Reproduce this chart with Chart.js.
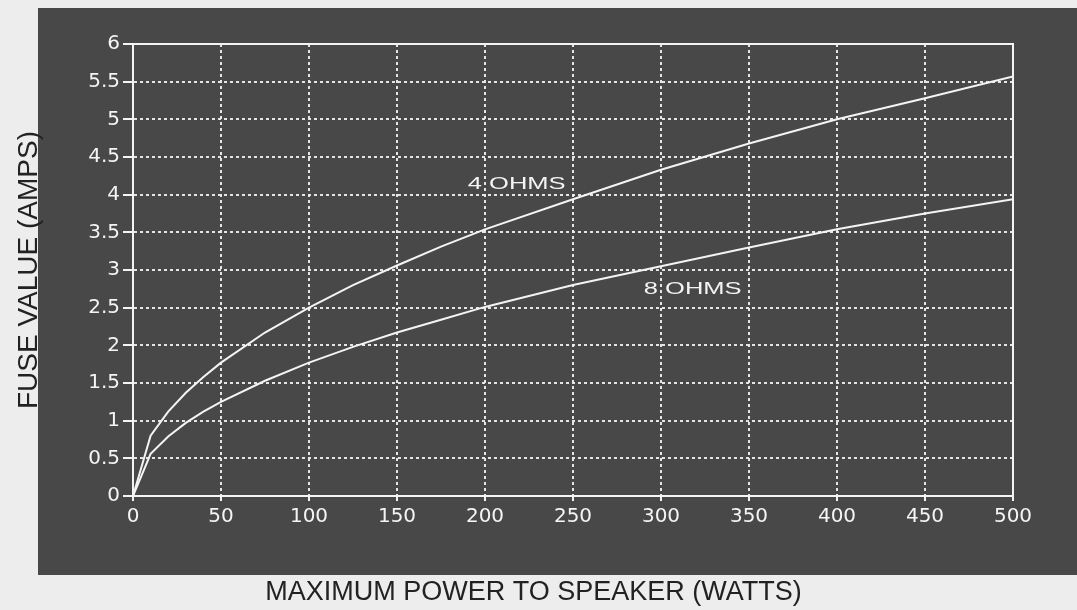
<!DOCTYPE html>
<html>
<head>
<meta charset="utf-8">
<script src="https://cdn.jsdelivr.net/npm/chart.js@4.4.1/dist/chart.umd.min.js"></script>
<style>
  html, body { margin: 0; padding: 0; background: #ededed; width: 1077px; height: 610px; overflow: hidden; }
  #panel { position: absolute; left: 38px; top: 8px; width: 1039px; height: 567px; background: #484848; }
  #wrap { position: absolute; left: 0; top: 0; width: 1077px; height: 610px; }
</style>
</head>
<body>
<div id="panel"></div>
<div id="wrap"><canvas id="c" width="1077" height="610"></canvas></div>
<script>
// ---- data ----
const powerWatts = [0, 10, 20, 30, 40, 50, 75, 100, 125, 150, 175, 200, 250, 300, 350, 400, 450, 500];
const fuse4Ohms  = [0, 0.80, 1.12, 1.37, 1.58, 1.77, 2.17, 2.50, 2.80, 3.06, 3.31, 3.54, 3.94, 4.33, 4.68, 5.00, 5.28, 5.57];
const fuse8Ohms  = [0, 0.56, 0.79, 0.97, 1.12, 1.25, 1.53, 1.77, 1.98, 2.17, 2.34, 2.51, 2.80, 3.05, 3.30, 3.54, 3.75, 3.94];
const seriesNames = ['4 OHMS', '8 OHMS'];
const seriesLabelAnchor = [[218, 4.14], [318, 2.75]]; // [watts, amps] where each curve name sits
const xTickValues = [0, 50, 100, 150, 200, 250, 300, 350, 400, 450, 500];
const xTickLabels = ['0', '50', '100', '150', '200', '250', '300', '350', '400', '450', '500'];
const yTickValues = [0, 0.5, 1, 1.5, 2, 2.5, 3, 3.5, 4, 4.5, 5, 5.5, 6];
const yTickLabels = ['0', '0.5', '1', '1.5', '2', '2.5', '3', '3.5', '4', '4.5', '5', '5.5', '6'];
const xTitle = 'MAXIMUM POWER TO SPEAKER (WATTS)';
const yTitle = 'FUSE VALUE (AMPS)';

const toPoints = (ys) => powerWatts.map((x, i) => ({ x: x, y: ys[i] }));

const WHITE = '#f4f4f4';
const TITLE_COLOR = '#222222';

const boxPlugin = {
  id: 'plotBox',
  afterDatasetsDraw(chart) {
    const a = chart.chartArea, ctx = chart.ctx;
    ctx.save();
    ctx.strokeStyle = WHITE;
    ctx.lineWidth = 2;
    ctx.setLineDash([]);
    ctx.strokeRect(a.left, a.top, a.right - a.left, a.bottom - a.top);
    ctx.restore();
  }
};

const seriesLabelPlugin = {
  id: 'seriesLabels',
  afterDatasetsDraw(chart) {
    const ctx = chart.ctx, xs = chart.scales.x, ys = chart.scales.y;
    ctx.save();
    ctx.fillStyle = WHITE;
    ctx.font = '17px "Liberation Sans", Arial, sans-serif';
    ctx.textAlign = 'center';
    ctx.textBaseline = 'middle';
    seriesNames.forEach((name, i) => {
      const px = xs.getPixelForValue(seriesLabelAnchor[i][0]);
      const py = ys.getPixelForValue(seriesLabelAnchor[i][1]);
      ctx.save();
      ctx.translate(px, py);
      ctx.scale(1.5, 1);
      ctx.fillText(name, 0, 0);
      ctx.restore();
    });
    ctx.restore();
  }
};

// x-axis title is centred on the page (as in the original), not on the plot area
const xTitlePlugin = {
  id: 'xTitle',
  afterDraw(chart) {
    const ctx = chart.ctx;
    ctx.save();
    ctx.fillStyle = TITLE_COLOR;
    ctx.font = '27px "Liberation Sans", Arial, sans-serif';
    ctx.textAlign = 'center';
    ctx.textBaseline = 'middle';
    ctx.fillText(xTitle, chart.width / 2 - 5, chart.height - 17);
    ctx.restore();
  }
};

const gridCommon = {
  color: 'rgba(238,238,238,0.95)',
  lineWidth: 2,
  drawTicks: true,
  tickColor: WHITE,
  tickWidth: 2,
  tickBorderDash: []
};
const borderCommon = { display: true, color: WHITE, width: 2, dash: [3, 3] };

new Chart(document.getElementById('c'), {
  type: 'line',
  data: {
    datasets: [
      { label: seriesNames[0], data: toPoints(fuse4Ohms), borderColor: WHITE, borderWidth: 2, pointRadius: 0, tension: 0, fill: false },
      { label: seriesNames[1], data: toPoints(fuse8Ohms), borderColor: WHITE, borderWidth: 2, pointRadius: 0, tension: 0, fill: false }
    ]
  },
  options: {
    responsive: false,
    animation: false,
    layout: { padding: { left: 0, top: 44, right: 64, bottom: 0 } },
    plugins: { legend: { display: false }, tooltip: { enabled: false } },
    scales: {
      x: {
        type: 'linear',
        min: 0, max: 500,
        afterBuildTicks: (s) => { s.ticks = xTickValues.map(v => ({ value: v })); },
        afterFit: (s) => { s.height = 114; },
        grid: Object.assign({}, gridCommon, { tickLength: 5 }),
        border: borderCommon,
        ticks: {
          color: WHITE, font: { family: '"DejaVu Sans", sans-serif', size: 20 }, padding: 4, maxRotation: 0, autoSkip: false,
          callback: (v) => { const i = xTickValues.indexOf(v); return i >= 0 ? xTickLabels[i] : ''; }
        },
        title: { display: false }
      },
      y: {
        type: 'linear',
        min: 0, max: 6,
        afterBuildTicks: (s) => { s.ticks = yTickValues.map(v => ({ value: v })); },
        afterFit: (s) => { s.width = 133; },
        grid: Object.assign({}, gridCommon, { tickLength: 10 }),
        border: borderCommon,
        ticks: {
          color: WHITE, font: { family: '"DejaVu Sans", sans-serif', size: 20 }, padding: 3, autoSkip: false,
          callback: (v) => { const i = yTickValues.indexOf(v); return i >= 0 ? yTickLabels[i] : ''; }
        },
        title: { display: true, text: yTitle, color: TITLE_COLOR, font: { family: '"Liberation Sans", Arial, sans-serif', size: 28 }, padding: { top: 12, bottom: 0 } }
      }
    }
  },
  plugins: [boxPlugin, seriesLabelPlugin, xTitlePlugin]
});
</script>
</body>
</html>
